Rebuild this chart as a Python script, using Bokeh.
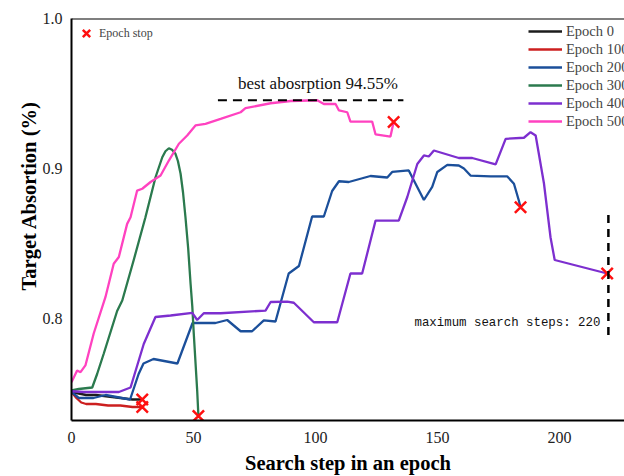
from bokeh.plotting import figure
from bokeh.models import Range1d, FixedTicker, Legend, LegendItem, Label, Span, Title
from bokeh.embed import file_html
from bokeh.resources import INLINE

# ---------------- data ----------------
epoch_labels = ["Epoch 0", "Epoch 100", "Epoch 200", "Epoch 300", "Epoch 400", "Epoch 500"]

x_e0 = [0, 3, 6, 10, 15, 20, 25, 29]
y_e0 = [0.751, 0.750, 0.749, 0.749, 0.748, 0.747, 0.746, 0.746]

x_e100 = [0, 2, 4, 6, 10, 15, 20, 25, 29]
y_e100 = [0.751, 0.747, 0.744, 0.743, 0.743, 0.742, 0.742, 0.741, 0.741]

x_e200 = [0, 3, 9, 14, 24, 27.5, 29.5, 33.6, 43.4, 49.6, 54, 59, 63.8, 69.3, 74, 78.8,
          83.6, 89, 93.2, 98.6, 103.4, 106.8, 109.6, 113.6, 122.5, 129.4, 131.4, 138.2,
          144.4, 147.8, 149.9, 154, 158.7, 160.8, 163.5, 171.7, 178.6, 181.3, 183.3, 184]
y_e200 = [0.751, 0.747, 0.747, 0.749, 0.746, 0.763, 0.770, 0.773, 0.770, 0.797, 0.797,
          0.797, 0.799, 0.7915, 0.7915, 0.7987, 0.798, 0.830, 0.835, 0.868, 0.868, 0.885,
          0.8915, 0.891, 0.895, 0.894, 0.8977, 0.8987, 0.879, 0.8877, 0.8977, 0.9024,
          0.902, 0.900, 0.8953, 0.8947, 0.8947, 0.8898, 0.8787, 0.8742]

x_e300 = [0, 3, 8.5, 10.5, 13.2, 18.7, 20.8, 25.5, 30.3, 34.4, 37.2, 38.5, 39.9, 41.2,
          42.6, 43.6, 44.7, 45.7, 46.7, 47.8, 48.8, 49.5, 50.1, 51.5, 52]
y_e300 = [0.752, 0.753, 0.754, 0.763, 0.7765, 0.805, 0.812, 0.839, 0.8675, 0.894, 0.9075,
          0.9115, 0.9135, 0.9125, 0.9098, 0.905, 0.8965, 0.884, 0.8675, 0.847, 0.823,
          0.808, 0.790, 0.752, 0.735]

x_e400 = [0, 5, 19.4, 24.2, 29.6, 34.4, 40.6, 49.5, 51.5, 54.2, 61.1, 79.5, 81.6, 88.4,
          91.1, 99.3, 108.9, 114.3, 119.1, 124.6, 134.1, 137.6, 141.7, 144.4, 146.4,
          148.5, 158.7, 164.2, 173.8, 177.9, 185.4, 188.1, 190.2, 193.6, 196.3, 198,
          219.5]
y_e400 = [0.7515, 0.751, 0.751, 0.754, 0.783, 0.801, 0.802, 0.8038, 0.799, 0.8035,
          0.8035, 0.8053, 0.811, 0.8113, 0.8105, 0.7975, 0.7975, 0.830, 0.830, 0.8653,
          0.8653, 0.881, 0.903, 0.9087, 0.908, 0.912, 0.907, 0.907, 0.9027, 0.9198,
          0.9205, 0.9242, 0.922, 0.890, 0.854, 0.839, 0.830]

x_e500 = [0, 2.3, 3.7, 5.7, 9.1, 13.9, 17.3, 19.4, 22.8, 24.2, 26.9, 29, 32.4, 36.5, 39.9,
          44, 47.4, 50.8, 54.9, 61.1, 69.3, 71.3, 81.6, 89.8, 100.7, 103.4, 108.2, 109.6,
          113, 114.3, 123.2, 124.6, 130.7, 132]
y_e500 = [0.7575, 0.7653, 0.7642, 0.7687, 0.790, 0.8142, 0.8365, 0.841, 0.8631, 0.8675,
          0.8853, 0.8865, 0.891, 0.8953, 0.9053, 0.9165, 0.922, 0.9287, 0.9298, 0.9331,
          0.9375, 0.9402, 0.9435, 0.945, 0.9455, 0.943, 0.943, 0.9387, 0.9375, 0.9313,
          0.9313, 0.9227, 0.9213, 0.931]

series_x = [x_e0, x_e100, x_e200, x_e300, x_e400, x_e500]
series_y = [y_e0, y_e100, y_e200, y_e300, y_e400, y_e500]

best_absorption = 0.9455
best_span = [60, 136]
max_steps = 220
max_span = [0.789, 0.869]

x_ticks = [0, 50, 100, 150, 200]
y_ticks = [0.8, 0.9, 1.0]
y_tick_labels = {0.8: "0.8", 0.9: "0.9", 1.0: "1.0"}

colors = ["#1c1c1c", "#cc1f1f", "#1b4f9a", "#2b7a4e", "#7d2fcf", "#ff42c0"]

SERIF = "Liberation Serif"

# ---------------- figure ----------------
p = figure(width=624, height=476, output_backend="svg", toolbar_location=None,
           x_range=Range1d(0, 226.6), y_range=Range1d(0.732, 1.0),
           min_border_left=71, min_border_right=0, min_border_top=18,
           min_border_bottom=56)
p.outline_line_color = None
p.grid.visible = False
p.background_fill_color = "white"

p.xaxis.ticker = FixedTicker(ticks=x_ticks)
p.yaxis.ticker = FixedTicker(ticks=y_ticks)
p.yaxis.major_label_overrides = y_tick_labels
for ax in (p.xaxis, p.yaxis):
    ax.axis_line_width = 2
    ax.axis_line_color = "black"
    ax.major_tick_line_color = None
    ax.minor_tick_line_color = None
    ax.major_tick_out = 0
    ax.major_tick_in = 0
    ax.major_label_text_font = SERIF
    ax.major_label_text_font_size = "16px"
    ax.major_label_text_color = "#222222"
    ax.axis_label_text_font = SERIF
    ax.axis_label_text_font_style = "bold"
    ax.axis_label_text_font_size = "20.5px"
    ax.axis_label_text_color = "black"
p.xaxis.major_label_standoff = 11
p.yaxis.major_label_standoff = 9
p.xaxis.axis_label = "Search step in an epoch"
p.xaxis.axis_label_standoff = 6

# y-axis title, sitting a little above the axis centre as in the original
p.add_layout(Title(text="Target Absortion (%)", align="left", offset=130, standoff=0,
                   text_font=SERIF, text_font_style="bold", text_font_size="20.5px",
                   text_color="black"), "left")

# top border
p.add_layout(Span(location=1.0, dimension="width", line_color="black", line_width=2))

renderers = []
for xs, ys, c in zip(series_x, series_y, colors):
    r = p.line(xs, ys, line_color=c, line_width=2.3)
    renderers.append(r)

stop_x = [xs[-1] for xs in series_x]
stop_y = [ys[-1] for ys in series_y]
stop_r = p.scatter(stop_x, stop_y, marker="x", size=16, line_color="#ff1010", line_width=2.5)

# best absorption dashed line
p.line(best_span, [best_absorption, best_absorption], line_color="black", line_width=2,
       line_dash="9 6")
p.add_layout(Label(x=sum(best_span) / 2 + 3, y=best_absorption, text="best abosrption 94.55%",
                   text_font=SERIF, text_font_size="17px", text_align="center",
                   text_baseline="bottom", y_offset=7, text_color="#111111"))

# max steps dashed line
p.line([max_steps, max_steps], max_span, line_color="black", line_width=2.5, line_dash="8 6")
p.add_layout(Label(x=max_steps, y=0.7967, text="maximum search steps: 220",
                   text_font="Liberation Mono", text_font_size="12.4px", text_align="right",
                   text_baseline="middle", x_offset=-8, text_color="#111111"))

legend = Legend(items=[LegendItem(label=l, renderers=[r]) for l, r in zip(epoch_labels, renderers)],
                location=(457, 290), padding=0, margin=0, spacing=0,
                glyph_width=34, glyph_height=18, label_height=18, label_standoff=4,
                label_text_font=SERIF, label_text_font_size="14.5px",
                border_line_color=None, background_fill_alpha=0)
p.add_layout(legend)

legend2 = Legend(items=[LegendItem(label="Epoch stop", renderers=[stop_r])],
                 location=(2, 371), padding=0, margin=0, spacing=0,
                 glyph_width=26, glyph_height=32, label_height=32, label_standoff=0,
                 label_text_font=SERIF, label_text_font_size="12px",
                 border_line_color=None, background_fill_alpha=0)
p.add_layout(legend2)

open("out.html", "w").write(file_html(p, INLINE))
